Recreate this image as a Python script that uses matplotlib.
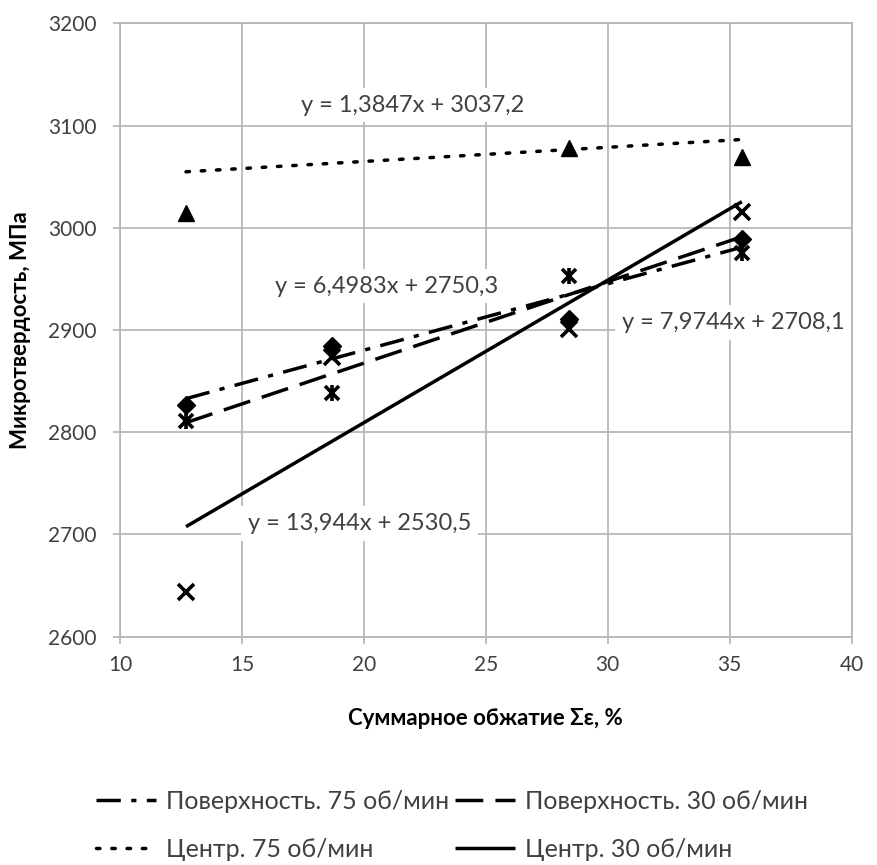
import numpy as np
import matplotlib
matplotlib.use("Agg")
import matplotlib.pyplot as plt

# Data
x_vals = [12.7, 18.7, 28.4, 35.5]
surf_75 = [2827, 2884, 2911, 2989]    # diamonds
surf_30 = [2811, 2838, 2953, 2975]    # stars
center_75 = [3014, 3122, 3078, 3069]  # triangles
center_30 = [2644, 2874, 2901, 3015]  # crosses

# Trendline coefficients (slope, intercept) as printed on the chart
slopes = [6.4983, 7.9744, 1.3847, 13.944]
intercepts = [2750.3, 2708.1, 3037.2, 2530.5]
legend_labels = ["Поверхность. 75 об/мин", "Поверхность. 30 об/мин",
                 "Центр. 75 об/мин", "Центр. 30 об/мин"]
eq_labels = ["y = 6,4983x + 2750,3", "y = 7,9744x + 2708,1",
             "y = 1,3847x + 3037,2", "y = 13,944x + 2530,5"]

plt.rcParams["font.family"] = ["Lato", "DejaVu Sans"]
text_gray = "#404040"
grid_gray = "#b3b3b3"

fig = plt.figure(figsize=(8.77, 8.65), dpi=100)
ax = fig.add_axes([0.137, 0.264, 0.834, 0.709])

# Trendlines
styles = [(0, (7, 3, 1.5, 3)), (0, (8, 3.5)), (0, (1, 3.4)), "-"]
caps = ["butt", "butt", "round", "butt"]
xs = np.array([min(x_vals), max(x_vals)])
handles = []
for k in range(4):
    h, = ax.plot(xs, slopes[k] * xs + intercepts[k], color="black",
                 linestyle=styles[k], linewidth=2.5, solid_capstyle=caps[k],
                 dash_capstyle=caps[k], zorder=3)
    handles.append(h)

# Points
ax.plot(x_vals, center_75, linestyle="none", marker="^", markersize=12,
        color="black", zorder=4)
ax.plot(x_vals, surf_75, linestyle="none", marker="D", markersize=9,
        color="black", zorder=4)
ax.plot(x_vals, center_30, linestyle="none", marker="x", markersize=11,
        markeredgewidth=2.6, color="black", zorder=4)
ax.plot(x_vals, surf_30, linestyle="none", marker="x", markersize=10,
        markeredgewidth=2.6, color="black", zorder=4)
ax.plot(x_vals, surf_30, linestyle="none", marker="|", markersize=12,
        markeredgewidth=2.6, color="black", zorder=4)

# Equation labels
eq_pos = [(16.35, 2943), (30.57, 2907), (17.4, 3120), (15.25, 2711)]
for (tx, ty), s in zip(eq_pos, eq_labels):
    ax.text(tx, ty, s, fontsize=17, color=text_gray, ha="left", va="center",
            zorder=5, bbox=dict(facecolor="white", edgecolor="none", pad=5))

ax.set_xlim(10, 40)
ax.set_ylim(2600, 3200)
ax.set_xticks(range(10, 41, 5))
ax.set_yticks(range(2600, 3201, 100))
ax.grid(True, color=grid_gray, linewidth=1.2, zorder=0)
ax.set_axisbelow(True)
for sp in ax.spines.values():
    sp.set_color(grid_gray)
    sp.set_linewidth(1.2)
ax.tick_params(axis="both", labelsize=15, labelcolor=text_gray, color=grid_gray,
               length=5, width=1.2, direction="out")
ax.tick_params(axis="x", pad=8)
ax.tick_params(axis="y", pad=12)

ax.set_xlabel("Суммарное обжатие Σε, %", fontsize=16, fontweight="bold",
              labelpad=24)
ax.set_ylabel("Микротвердость, МПа", fontsize=16, fontweight="bold",
              labelpad=12)

# Legend rows: surface 75 / surface 30, then center 75 / center 30
order = [0, 2, 1, 3]
leg = fig.legend([handles[i] for i in order], [legend_labels[i] for i in order],
                 loc="center left", ncol=2, bbox_to_anchor=(0.11, 0.046),
                 frameon=False, fontsize=18, handlelength=2.4,
                 handletextpad=0.4, columnspacing=0.2, labelspacing=1.0,
                 borderaxespad=0, borderpad=0)
for t in leg.get_texts():
    t.set_color(text_gray)

fig.savefig("out.png", dpi=100)
